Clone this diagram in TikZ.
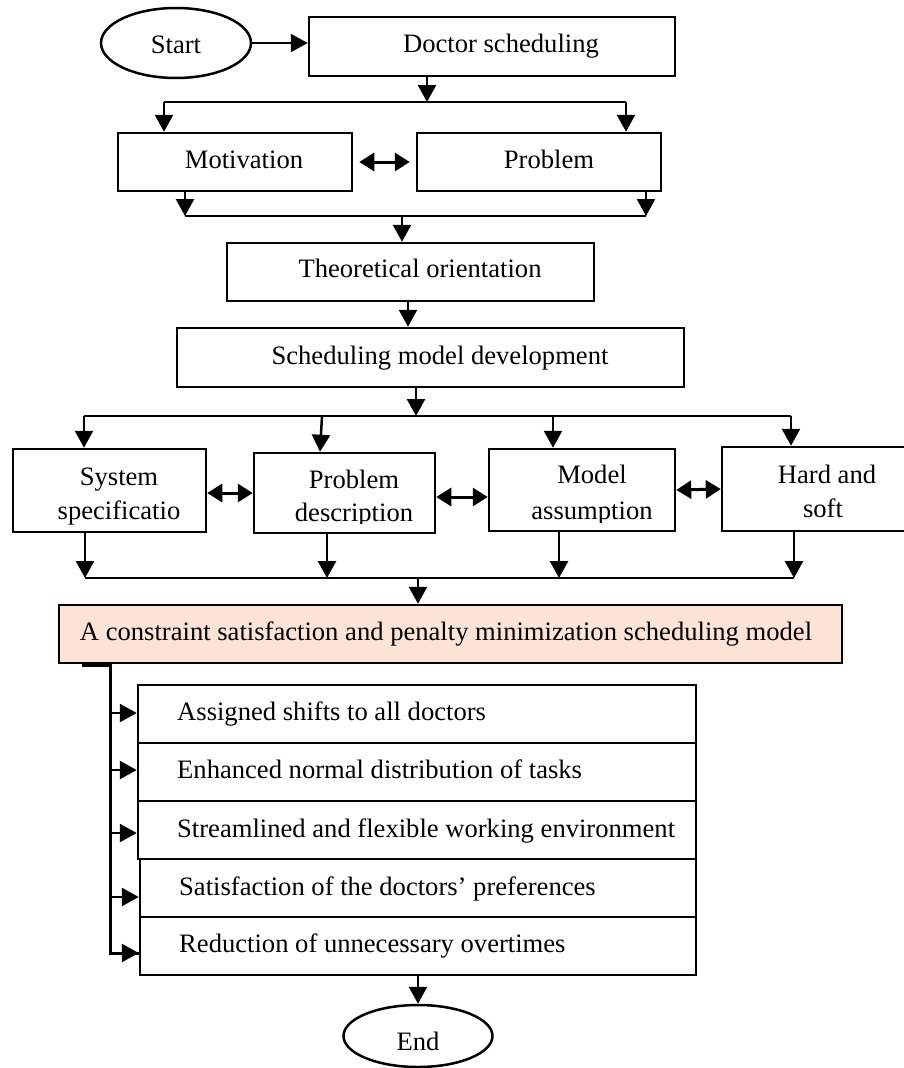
\documentclass[tikz,border=0pt]{standalone}
\usepackage{fontspec}
\setmainfont{Liberation Serif}
\usetikzlibrary{arrows.meta,shapes.geometric}
\definecolor{peach}{HTML}{FBE4D5}
\tikzset{
  every node/.style={font=\fontsize{26.6}{32}\selectfont},
  box/.style={draw,line width=2.5pt,inner sep=0pt},
  oval/.style={draw,ellipse,line width=2.5pt,inner sep=0pt},
  txt/.style={anchor=base,inner sep=0pt},
  txtl/.style={anchor=base west,inner sep=0pt},
  arr/.style={line width=2.5pt,-{Triangle[length=17pt,width=18pt]}},
  dbl/.style={line width=3pt,{Triangle[length=15pt,width=18pt]}-{Triangle[length=15pt,width=18pt]}},
  thinline/.style={line width=1.6pt},
}
\begin{document}
\begin{tikzpicture}[x=1pt,y=-1pt]
\clip (0,0) rectangle (904,1068);
\fill[white] (0,0) rectangle (904,1068);

% ---------- nodes ----------
\node[oval,minimum width=150,minimum height=70] (start) at (176,43) {};
\node[txt] (tstart) at (176,53) {Start};
\node[box,minimum width=366,minimum height=59] (doc) at (492,46.5) {};
\node[txt] (tdoc) at (501,52) {Doctor scheduling};

\node[box,minimum width=234,minimum height=58] (mot) at (235,162) {};
\node[txt] (tmot) at (244,168) {Motivation};
\node[box,minimum width=244,minimum height=58] (prob) at (539,162) {};
\node[txt] (tprob) at (549,168) {Problem};

\node[box,minimum width=367,minimum height=58] (th) at (410.5,272) {};
\node[txt] (tth) at (420,277) {Theoretical orientation};

\node[box,minimum width=507,minimum height=59] (sch) at (430.5,357.5) {};
\node[txt] (tsch) at (440,364) {Scheduling model development};

\node[box,minimum width=193,minimum height=83] (sys) at (109.5,490.5) {};
\node[txt] (tsys1) at (119,485) {System};
\node[txt] (tsys2) at (119,519) {specificatio};

\node[box,minimum width=181,minimum height=80] (pd) at (344.5,493) {};
\node[txt] (tpd1) at (354,488) {Problem};
\begin{scope}
  \clip (254,453) rectangle (435,523);
  \node[txt] (tpd2) at (354,521) {description};
\end{scope}

\node[box,minimum width=186,minimum height=82] (mod) at (582,490) {};
\node[txt] (tmod1) at (592,483) {Model};
\begin{scope}
  \clip (489,449) rectangle (675,522);
  \node[txt] (tmod2) at (592,519) {assumption};
\end{scope}

\node[box,minimum width=206,minimum height=84] (hard) at (825,489) {};
\node[txt] (thard1) at (827,483) {Hard and};
\node[txt] (thard2) at (823,517) {soft};

\node[box,fill=peach,minimum width=783,minimum height=58] (con) at (450.5,634) {};
\node[txt] (tcon) at (446,640) {A constraint satisfaction and penalty minimization scheduling model};

\node[box,minimum width=558,minimum height=58] (b1) at (417,714) {};
\node[txtl] (tb1) at (177,720) {Assigned shifts to all doctors};
\node[box,minimum width=558,minimum height=58] (b2) at (417,772) {};
\node[txtl] (tb2) at (177,778) {Enhanced normal distribution of tasks};
\node[box,minimum width=558,minimum height=58] (b3) at (417,830) {};
\node[txtl] (tb3) at (177,837) {Streamlined and flexible working environment};
\node[box,minimum width=556,minimum height=58] (b4) at (418,888) {};
\node[txtl] (tb4) at (179,895) {Satisfaction of the doctors’ preferences};
\node[box,minimum width=556,minimum height=58] (b5) at (418,946) {};
\node[txtl] (tb5) at (179,952) {Reduction of unnecessary overtimes};

\node[oval,minimum width=149,minimum height=62] (end) at (418,1036) {};
\node[txt] (tend) at (418,1050) {End};

% ---------- helper coordinates ----------
\coordinate (j1) at (427,102);
\coordinate (j1l) at (164,102);
\coordinate (j1r) at (626,102);
\coordinate (j2l) at (185,216);
\coordinate (j2r) at (646,216);
\coordinate (j2m) at (402,216);
\coordinate (x408) at (408,0);
\coordinate (j3) at (416,416);
\coordinate (j3a) at (84,416);
\coordinate (j3b) at (322,416);
\coordinate (x320) at (320,0);
\coordinate (j3c) at (553,416);
\coordinate (j3d) at (791,416);
\coordinate (j4a) at (85,578);
\coordinate (j4b) at (327,578);
\coordinate (j4c) at (559,578);
\coordinate (j4d) at (794,578);
\coordinate (j4m) at (418,578);
\coordinate (k0) at (82,665);
\coordinate (k1) at (110,663);
\coordinate (k2) at (110,953);
\coordinate (ya1) at (0,713);
\coordinate (ya2) at (0,770);
\coordinate (ya3) at (0,833);
\coordinate (ya4) at (0,897);
\coordinate (yd2) at (0,497);

% ---------- connectors ----------
\draw[arr] (start.east) -- (start.east -| doc.west);
\draw[arr] (doc.south -| j1) -- (j1);
\draw[thinline] (j1l) -- (j1r);
\draw[arr] (j1l) -- (j1l |- mot.north);
\draw[arr] (j1r) -- (j1r |- prob.north);
\draw[dbl] ([xshift=6]mot.east) -- ([xshift=-6]mot.east -| prob.west);

\draw[arr] (mot.south -| j2l) -- (j2l);
\draw[arr] (prob.south -| j2r) -- (j2r);
\draw[thinline] (j2l) -- (j2r);
\draw[arr] (j2m) -- (j2m |- th.north);

\draw[arr] (th.south -| x408) -- (sch.north -| x408);
\draw[arr] (sch.south -| j3) -- (j3);
\draw[thinline] (j3a) -- (j3d);
\draw[arr] (j3a) -- (j3a |- sys.north);
\draw[arr] (j3b) -- (pd.north -| x320);
\draw[arr] (j3c) -- (j3c |- mod.north);
\draw[arr] (j3d) -- (j3d |- hard.north);

\draw[dbl] (sys.east |- pd.west) -- (pd.west);
\draw[dbl] (pd.east |- yd2) -- (mod.west |- yd2);
\draw[dbl] (mod.east) -- (hard.west);

\draw[arr] (sys.south -| j4a) -- (j4a);
\draw[arr] (pd.south -| j4b) -- (j4b);
\draw[arr] (mod.south -| j4c) -- (j4c);
\draw[arr] (hard.south -| j4d) -- (j4d);
\draw[thinline] (j4a) -- (j4d);
\draw[arr] (j4m) -- (j4m |- con.north);

\draw[line width=4pt] (k0) -- (k0 -| k1);
\draw[line width=3pt] (con.south -| k1) -- (k2) -- (k2 -| b5.west);
\draw[arr] (k1 |- ya1) -- (b1.west |- ya1);
\draw[arr] (k1 |- ya2) -- (b2.west |- ya2);
\draw[arr] (k1 |- ya3) -- (b3.west |- ya3);
\draw[arr] (k1 |- ya4) -- (b4.west |- ya4);
\draw[arr] ([xshift=-1]k2) -- (k2 -| b5.west);

\draw[arr] (b5.south) -- (end.north);
\end{tikzpicture}
\end{document}
